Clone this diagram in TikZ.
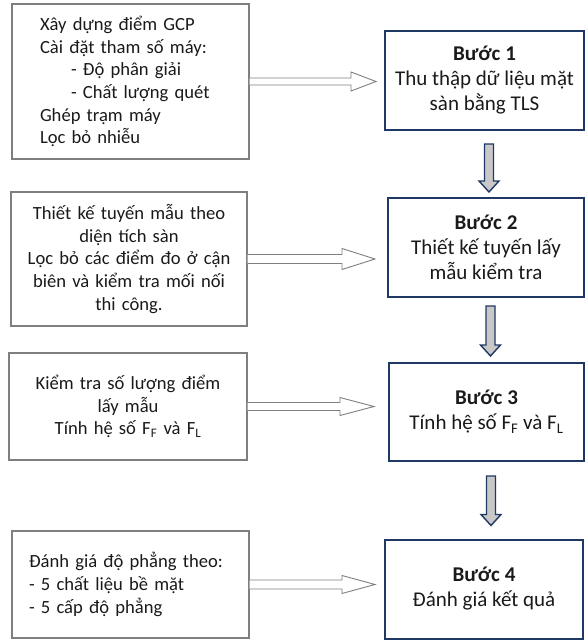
\documentclass[tikz,border=0pt]{standalone}
\usepackage{fontspec}
\setmainfont{Carlito}
\usetikzlibrary{calc}
\definecolor{navy}{HTML}{1F3864}
\definecolor{boxgray}{HTML}{7F7F7F}
\definecolor{arrgray}{HTML}{C8C8C8}
\definecolor{txt}{HTML}{1A1A1A}
\tikzset{
  leftbox/.style={draw=boxgray, line width=1.2pt, fill=white, inner sep=0pt, text=txt,
    font=\fontsize{18.6}{22.7}\selectfont},
  stepbox/.style={draw=navy, line width=2pt, fill=white, inner sep=0pt, align=center, text=txt,
    font=\fontsize{21}{25}\selectfont},
  hollowarr/.style={draw=boxgray, line width=0.9pt, fill=white, line join=miter},
  downarr/.style={draw=navy, line width=1.4pt, fill=arrgray, line join=miter},
}
% #1 left node, #2 right node, #3 gap to box, #4 head length, #5 shaft half, #6 head half
\newcommand\drawright[6]{%
  \coordinate (tp) at ($(#2.west |- #1.east)+(-#3,0)$);
  \draw[hollowarr] ($(#1.east)+(0,-#5)$) -- ($(tp)+(-#4,-#5)$) -- ($(tp)+(-#4,-#6)$) -- (tp)
     -- ($(tp)+(-#4,#6)$) -- ($(tp)+(-#4,#5)$) -- ($(#1.east)+(0,#5)$);
}
% #1 upper node, #2 lower node, #3 top gap, #4 bottom gap
\newcommand\drawdown[4]{%
  \coordinate (da) at ($(#1.south)+(4.5,#3)$);
  \coordinate (db) at ($(#2.north -| da)+(0,-#4)$);
  \draw[downarr] ($(da)+(-4.5,0)$) -- ($(db)+(-4.5,-11)$) -- ($(db)+(-10,-11)$) -- (db)
     -- ($(db)+(10,-11)$) -- ($(db)+(4.5,-11)$) -- ($(da)+(4.5,0)$) -- cycle;
}
\begin{document}
\begin{tikzpicture}[x=1pt, y=-1pt]
\useasboundingbox (0,0) rectangle (585,640);

% left boxes
\node[leftbox, minimum width=237pt, minimum height=155pt, text width=181pt, align=left] (l1) at (130.5,81.5)
  {Xây dựng điểm GCP\\Cài đặt tham số máy:\\\hspace*{31pt}- Độ phân giải\\\hspace*{31pt}- Chất lượng quét\\Ghép trạm máy\\Lọc bỏ nhiễu};
\node[leftbox, minimum width=236pt, minimum height=134pt, text width=210pt, align=center] (l2) at (129,259)
  {Thiết kế tuyến mẫu theo\\diện tích sàn\\Lọc bỏ các điểm đo ở cận\\biên và kiểm tra mối nối\\thi công.};
\node[leftbox, minimum width=238pt, minimum height=107pt, text width=210pt, align=center] (l3) at (128,406.5)
  {Kiểm tra số lượng điểm\\lấy mẫu\\Tính hệ số F\textsubscript{F} và F\textsubscript{L}};
\node[leftbox, minimum width=237pt, minimum height=107pt, text width=203pt, align=left] (l4) at (130.5,584.5)
  {Đánh giá độ phẳng theo:\\- 5 chất liệu bề mặt\\- 5 cấp độ phẳng};

% step boxes
\node[stepbox, minimum width=199pt, minimum height=99pt] (r1) at (484.5,80.5)
  {\textbf{Bước 1}\\Thu thập dữ liệu mặt\\sàn bằng TLS};
\node[stepbox, minimum width=196pt, minimum height=99pt] (r2) at (486,247.5)
  {\textbf{Bước 2}\\Thiết kế tuyến lấy\\mẫu kiểm tra};
\node[stepbox, minimum width=195pt, minimum height=98pt] (r3) at (486.5,412)
  {\textbf{Bước 3}\\Tính hệ số F\textsubscript{F} và F\textsubscript{L}};
\node[stepbox, minimum width=198pt, minimum height=99pt] (r4) at (484,589)
  {\textbf{Bước 4}\\Đánh giá kết quả};

% hollow arrows
\drawright{l1}{r1}{8}{25}{3.5}{9.5}
\drawright{l2}{r2}{12}{33}{4.5}{10.5}
\drawright{l3}{r3}{14}{34}{4}{9}
\drawright{l4}{r4}{9}{33}{4.5}{9}

% down arrows
\drawdown{r1}{r2}{13}{5}
\drawdown{r2}{r3}{8}{6}
\drawdown{r3}{r4}{14}{13}
\end{tikzpicture}
\end{document}
